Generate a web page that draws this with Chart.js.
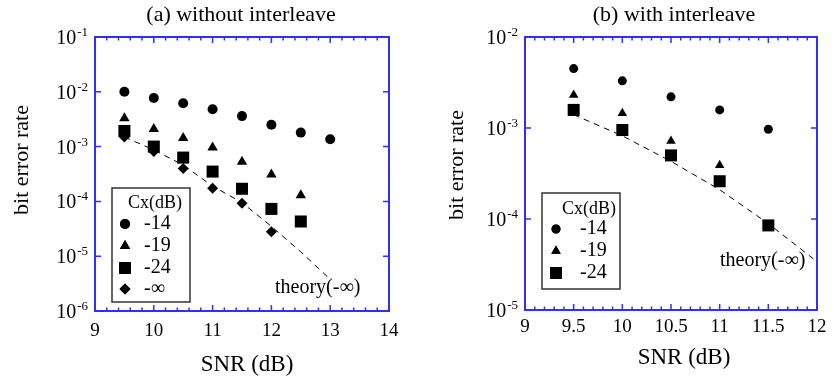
<!DOCTYPE html>
<html>
<head>
<meta charset="utf-8">
<script src="https://cdn.jsdelivr.net/npm/chart.js@4.4.1/dist/chart.umd.min.js"></script>
<style>
  body { margin: 0; background: #fff; }
  #wrap { display: flex; width: 834px; height: 382px; }
  canvas { display: block; }
</style>
</head>
<body>
<div id="wrap">
  <canvas id="chartA" width="417" height="382"></canvas>
  <canvas id="chartB" width="417" height="382"></canvas>
</div>
<script>
// ---- data, panel (a) without interleave ----
const snrA = [9.5, 10, 10.5, 11, 11.5, 12, 12.5, 13];
const berA14 = [1.0e-2, 7.7e-3, 6.2e-3, 4.8e-3, 3.6e-3, 2.5e-3, 1.8e-3, 1.36e-3];
const berA19 = [3.3e-3, 2.1e-3, 1.44e-3, 9.6e-4, 5.3e-4, 3.1e-4, 1.3e-4];
const berA24 = [1.93e-3, 1.0e-3, 6.3e-4, 3.5e-4, 1.7e-4, 7.3e-5, 4.3e-5];
const berAInf = [1.5e-3, 8.1e-4, 4.0e-4, 1.74e-4, 9.3e-5, 2.8e-5];
const theoryA = [1.5e-3, 8.7e-4, 4.6e-4, 1.9e-4, 9.5e-5, 3.5e-5, 1.2e-5, 3.8e-6];
const xTicksA = [9, 10, 11, 12, 13, 14];
const yTicksA = [1e-6, 1e-5, 1e-4, 1e-3, 1e-2, 1e-1];

// ---- data, panel (b) with interleave ----
const snrB = [9.5, 10, 10.5, 11, 11.5];
const berB14 = [4.5e-3, 3.3e-3, 2.2e-3, 1.58e-3, 9.7e-4];
const berB19 = [2.3e-3, 1.45e-3, 7.2e-4, 3.9e-4];
const berB24 = [1.58e-3, 9.5e-4, 5.0e-4, 2.6e-4, 8.5e-5];
const theorySnrB = [9.5, 10, 10.5, 11, 11.5, 12];
const theoryB = [1.4e-3, 8.2e-4, 4.3e-4, 2.1e-4, 8.9e-5, 3.4e-5];
const xTicksB = [9, 9.5, 10, 10.5, 11, 11.5, 12];
const yTicksB = [1e-5, 1e-4, 1e-3, 1e-2];

const SERIF = "'Liberation Serif', 'Times New Roman', serif";
const FRAME = "#2f2fff";

function pts(xs, ys) {
    return ys.map((y, i) => ({ x: xs[i], y: y }));
}

function markers(data, style, radius) {
    return {
        data: data,
        pointStyle: style,
        pointRadius: radius,
        pointBackgroundColor: "#000",
        pointBorderColor: "#000",
        pointBorderWidth: 0,
        showLine: false
    };
}

function theoryLine(data) {
    return {
        data: data,
        showLine: true,
        borderColor: "#000",
        borderWidth: 1,
        borderDash: [6, 5],
        pointRadius: 0,
        fill: false
    };
}

function drawMarker(ctx, style, x, y, r) {
    ctx.save();
    ctx.fillStyle = "#000";
    Chart.helpers.drawPoint(ctx, { pointStyle: style, radius: r, borderWidth: 0 }, x, y);
    ctx.fill();
    ctx.restore();
}

// frame, inward ticks, y labels, titles, legend
function decorPlugin(cfg) {
    return {
        id: "decor",
        afterDraw(chart) {
            const ctx = chart.ctx;
            const a = chart.chartArea;
            const xs = chart.scales.x;
            const ys = chart.scales.y;
            ctx.save();

            // blue frame
            ctx.strokeStyle = FRAME;
            ctx.lineWidth = 2;
            ctx.strokeRect(a.left, a.top, a.right - a.left, a.bottom - a.top);

            // x ticks (major + minor) on top and bottom
            ctx.lineWidth = 1.5;
            ctx.beginPath();
            for (let v = xs.min; v <= xs.max + 1e-9; v += cfg.minorStep) {
                const px = xs.getPixelForValue(v);
                const major = Math.abs(v / cfg.majorStep - Math.round(v / cfg.majorStep)) < 1e-6;
                const len = major ? 6 : 3.5;
                ctx.moveTo(px, a.bottom); ctx.lineTo(px, a.bottom - len);
                ctx.moveTo(px, a.top); ctx.lineTo(px, a.top + len);
            }
            // y ticks on left and right
            cfg.yTicks.forEach(v => {
                const py = ys.getPixelForValue(v);
                ctx.moveTo(a.left, py); ctx.lineTo(a.left + 6, py);
                ctx.moveTo(a.right, py); ctx.lineTo(a.right - 6, py);
            });
            ctx.stroke();

            // y tick labels 10^n
            ctx.fillStyle = "#000";
            ctx.textBaseline = "alphabetic";
            cfg.yTicks.forEach(v => {
                const py = ys.getPixelForValue(v);
                const exp = String(Math.round(Math.log10(v)));
                ctx.font = "13px " + SERIF;
                const ew = ctx.measureText(exp).width;
                ctx.textAlign = "left";
                const ex = a.left - 7 - ew;
                ctx.fillText(exp, ex, py - 1);
                ctx.font = "20px " + SERIF;
                ctx.textAlign = "right";
                ctx.fillText("10", ex - 1, py + 7);
            });

            // title
            ctx.textAlign = "center";
            ctx.textBaseline = "middle";
            ctx.font = "22px " + SERIF;
            ctx.fillText(cfg.title, cfg.titleX, 15);

            // x axis title
            ctx.font = "23px " + SERIF;
            ctx.fillText("SNR (dB)", cfg.xTitleX, cfg.xTitleY);

            // y axis title
            ctx.font = "22px " + SERIF;
            ctx.save();
            ctx.translate(cfg.yTitleX, cfg.yTitleY);
            ctx.rotate(-Math.PI / 2);
            ctx.fillText("bit error rate", 0, 0);
            ctx.restore();

            // theory label
            ctx.font = "20px " + SERIF;
            ctx.textAlign = "left";
            ctx.fillText("theory(-\u221E)", cfg.theoryX, cfg.theoryY);

            // legend box
            const L = cfg.legend;
            ctx.strokeStyle = "#333";
            ctx.lineWidth = 1.5;
            ctx.strokeRect(L.x, L.y, L.w, L.h);
            ctx.font = "18px " + SERIF;
            ctx.textAlign = "left";
            ctx.fillText("Cx(dB)", L.headX, L.headY);
            L.items.forEach((it, i) => {
                const ly = L.rowY[i];
                drawMarker(ctx, it.style, L.markX, ly, it.r);
                ctx.font = "20px " + SERIF;
                ctx.fillText(it.label, L.textX, ly);
            });

            ctx.restore();
        }
    };
}

function makeChart(id, datasets, opts) {
    return new Chart(document.getElementById(id), {
        type: "scatter",
        data: { datasets: datasets },
        options: {
            responsive: false,
            animation: false,
            events: [],
            layout: { padding: { top: 37, right: opts.padRight, left: 0, bottom: 0 } },
            plugins: { legend: { display: false }, tooltip: { enabled: false } },
            scales: {
                x: {
                    type: "linear",
                    min: opts.xMin,
                    max: opts.xMax,
                    afterBuildTicks: s => { s.ticks = opts.xTicks.map(v => ({ value: v })); },
                    ticks: {
                        color: "#000",
                        font: { family: SERIF, size: 19 },
                        padding: opts.tickPad,
                        maxRotation: 0,
                        autoSkip: false,
                        callback: v => String(v)
                    },
                    grid: { display: false, drawTicks: false },
                    border: { display: false },
                    afterFit: s => { s.height = opts.xHeight; }
                },
                y: {
                    type: "logarithmic",
                    min: opts.yMin,
                    max: opts.yMax,
                    ticks: { display: false },
                    grid: { display: false, drawTicks: false },
                    border: { display: false },
                    afterFit: s => { s.width = opts.yWidth; }
                }
            }
        },
        plugins: [decorPlugin(opts.decor)]
    });
}

makeChart("chartA", [
    theoryLine(pts(snrA, theoryA)),
    markers(pts(snrA, berA14), "circle", 5),
    markers(pts(snrA, berA19), "triangle", 6),
    markers(pts(snrA, berA24), "rect", 8.5),
    markers(pts(snrA, berAInf), "rectRot", 5.5)
], {
    xMin: 9, xMax: 14, yMin: 1e-6, yMax: 1e-1,
    xTicks: xTicksA, padRight: 28, yWidth: 95, xHeight: 71, tickPad: 9,
    decor: {
        title: "(a) without interleave", titleX: 241,
        xTitleX: 247, xTitleY: 365, yTitleX: 22, yTitleY: 160,
        minorStep: 0.2, majorStep: 1, yTicks: yTicksA,
        theoryX: 275, theoryY: 288,
        legend: {
            x: 112, y: 188, w: 78, h: 114,
            headX: 128, headY: 203, markX: 125, textX: 144,
            rowY: [224, 246, 268, 289],
            items: [
                { style: "circle", r: 5, label: "-14" },
                { style: "triangle", r: 6, label: "-19" },
                { style: "rect", r: 8.5, label: "-24" },
                { style: "rectRot", r: 5.5, label: "-\u221E" }
            ]
        }
    }
});

makeChart("chartB", [
    theoryLine(pts(theorySnrB, theoryB)),
    markers(pts(snrB, berB14), "circle", 4.5),
    markers(pts(snrB, berB19), "triangle", 5.5),
    markers(pts(snrB, berB24), "rect", 8.5)
], {
    xMin: 9, xMax: 12, yMin: 1e-5, yMax: 1e-2,
    xTicks: xTicksB, padRight: 17, yWidth: 108, xHeight: 72, tickPad: 6,
    decor: {
        title: "(b) with interleave", titleX: 257,
        xTitleX: 267, xTitleY: 358, yTitleX: 40, yTitleY: 165,
        minorStep: 0.1, majorStep: 0.5, yTicks: yTicksB,
        theoryX: 303, theoryY: 261,
        legend: {
            x: 125, y: 193, w: 78, h: 96,
            headX: 145, headY: 209, markX: 139, textX: 163,
            rowY: [229, 251, 273],
            items: [
                { style: "circle", r: 4.5, label: "-14" },
                { style: "triangle", r: 5.5, label: "-19" },
                { style: "rect", r: 8.5, label: "-24" }
            ]
        }
    }
});
</script>
</body>
</html>
